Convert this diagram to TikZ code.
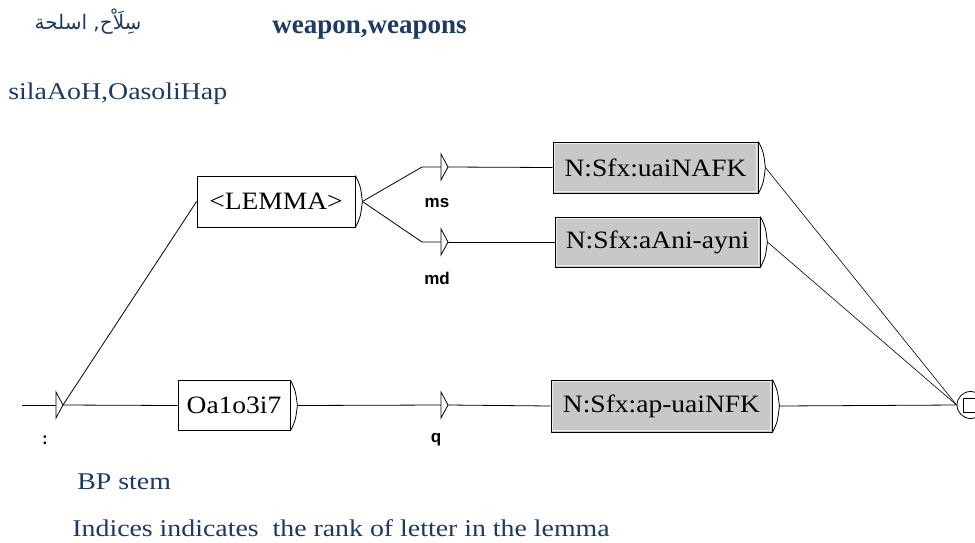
\documentclass[tikz,border=0pt]{standalone}
\usepackage{fontspec}
\setmainfont{Liberation Serif}
\newfontfamily\pal[FakeStretch=1.1]{Liberation Serif}
\newfontfamily\notefont[FakeStretch=1.16]{Liberation Serif}
\newfontfamily\lab{Liberation Sans}
\newfontfamily\arabicfont[Script=Arabic]{DejaVu Sans}
\TeXXeTstate=1
\definecolor{navy}{RGB}{28,58,100}
\definecolor{boxgray}{RGB}{200,200,200}
\definecolor{inner}{RGB}{235,235,235}
\tikzset{
  wbox/.style={draw=black, fill=white, inner sep=0pt, font=\pal\fontsize{25}{30}\selectfont},
  gbox/.style={wbox, fill=boxgray},
  lbl/.style={font=\lab\bfseries\fontsize{17}{20}\selectfont, inner sep=0pt},
  note/.style={text=navy, anchor=base west, inner sep=0pt, font=\notefont\fontsize{24}{28}\selectfont},
  tri/.pic={\draw[fill=white] (0,-13) -- (7,0) -- (0,13) -- cycle;},
  brk/.style={line width=0.8pt},
  edge/.style={line width=0.8pt},
  fedge/.style={line width=0.6pt}
}
\begin{document}
\begin{tikzpicture}[x=1pt,y=-1pt,line width=0.8pt]
\useasboundingbox[fill=white] (0,0) rectangle (975,542);

% texts
\node[text=navy, inner sep=0pt, font=\arabicfont\fontsize{20}{24}\selectfont] (ar) at (88,22) {\beginR سِلَاْح, اسلحة\endR};
\node[note, font=\bfseries\fontsize{27}{30}\selectfont] (en) at (272,33) {weapon,weapons};
\node[note] (tr) at (8,99) {silaAoH,OasoliHap};
\node[note] (bp) at (77,489) {BP stem};
\node[note] (ind) at (72,536) {Indices indicates\ \ the rank of letter in the lemma};

% boxes
\node[wbox, minimum width=158pt, minimum height=51pt] (lemma) at (276,201.5) {<LEMMA>};
\node[wbox, minimum width=112pt, minimum height=50pt] (oa) at (234,405.5) {Oa1o3i7};
\node[gbox, minimum width=221pt, minimum height=52pt] (apu) at (661.5,406) {N:Sfx:ap-uaiNFK};
\node[gbox, minimum width=205pt, minimum height=51pt] (uai) at (655.5,167.5) {N:Sfx:uaiNAFK};
\node[gbox, minimum width=205pt, minimum height=50pt] (aani) at (657.5,242) {N:Sfx:aAni-ayni};

\foreach \n in {apu,uai,aani}{
  \draw[inner, line width=1.2pt] ([shift={(2,2)}]\n.north west) rectangle ([shift={(-2,-2)}]\n.south east);
}

% brackets on the right of boxes
\foreach \n in {lemma,oa,apu,uai,aani}{
  \coordinate (\n T) at ([xshift=7pt]\n.east);
  \draw[brk] (\n.north east) .. controls ([shift={(5,10)}]\n.north east) .. (\n T)
             .. controls ([shift={(5,-10)}]\n.south east) .. (\n.south east);
}

% initial state
\coordinate (start) at (22,405);
\coordinate (initL) at (56,405);
\coordinate (init) at (63,405);
\draw[edge] (start) -- (initL);
\draw[edge] (init) -- (lemma.west);
\draw[edge] (init) -- (oa.west);
\pic at (initL) {tri};
\node[lbl] (colon) at (45,440) {:};

% ms branch
\coordinate (msK) at (422,167);
\coordinate (msL) at (441,167);
\coordinate (msR) at (448,167);
\draw[edge] (lemmaT) -- (msK) -- (msL);
\draw[edge] (msR) -- (uai.west);
\pic at (msL) {tri};
\node[lbl] (ms) at (437,203) {ms};

% md branch
\coordinate (mdK) at (422,242);
\coordinate (mdL) at (441,242);
\coordinate (mdR) at (448,242);
\draw[edge] (lemmaT) -- (mdK) -- (mdL);
\draw[edge] (mdR) -- (aani.west);
\pic at (mdL) {tri};
\node[lbl] (md) at (437,278) {md};

% q branch
\coordinate (qL) at (441,405);
\coordinate (qR) at (448,405);
\draw[edge] (oaT) -- (qL);
\draw[edge] (qR) -- (apu.west);
\pic at (qL) {tri};
\node[lbl] (q) at (436,440) {q};

% final state
\node[circle, draw, minimum size=27pt, inner sep=0pt] (fin) at (970.5,405) {};
\draw (963,398) rectangle (979,412);
\draw[fedge] (uaiT) -- (fin.west);
\draw[fedge] (aaniT) -- (fin.west);
\draw[edge] (apuT) -- (fin.west);
\end{tikzpicture}
\end{document}
